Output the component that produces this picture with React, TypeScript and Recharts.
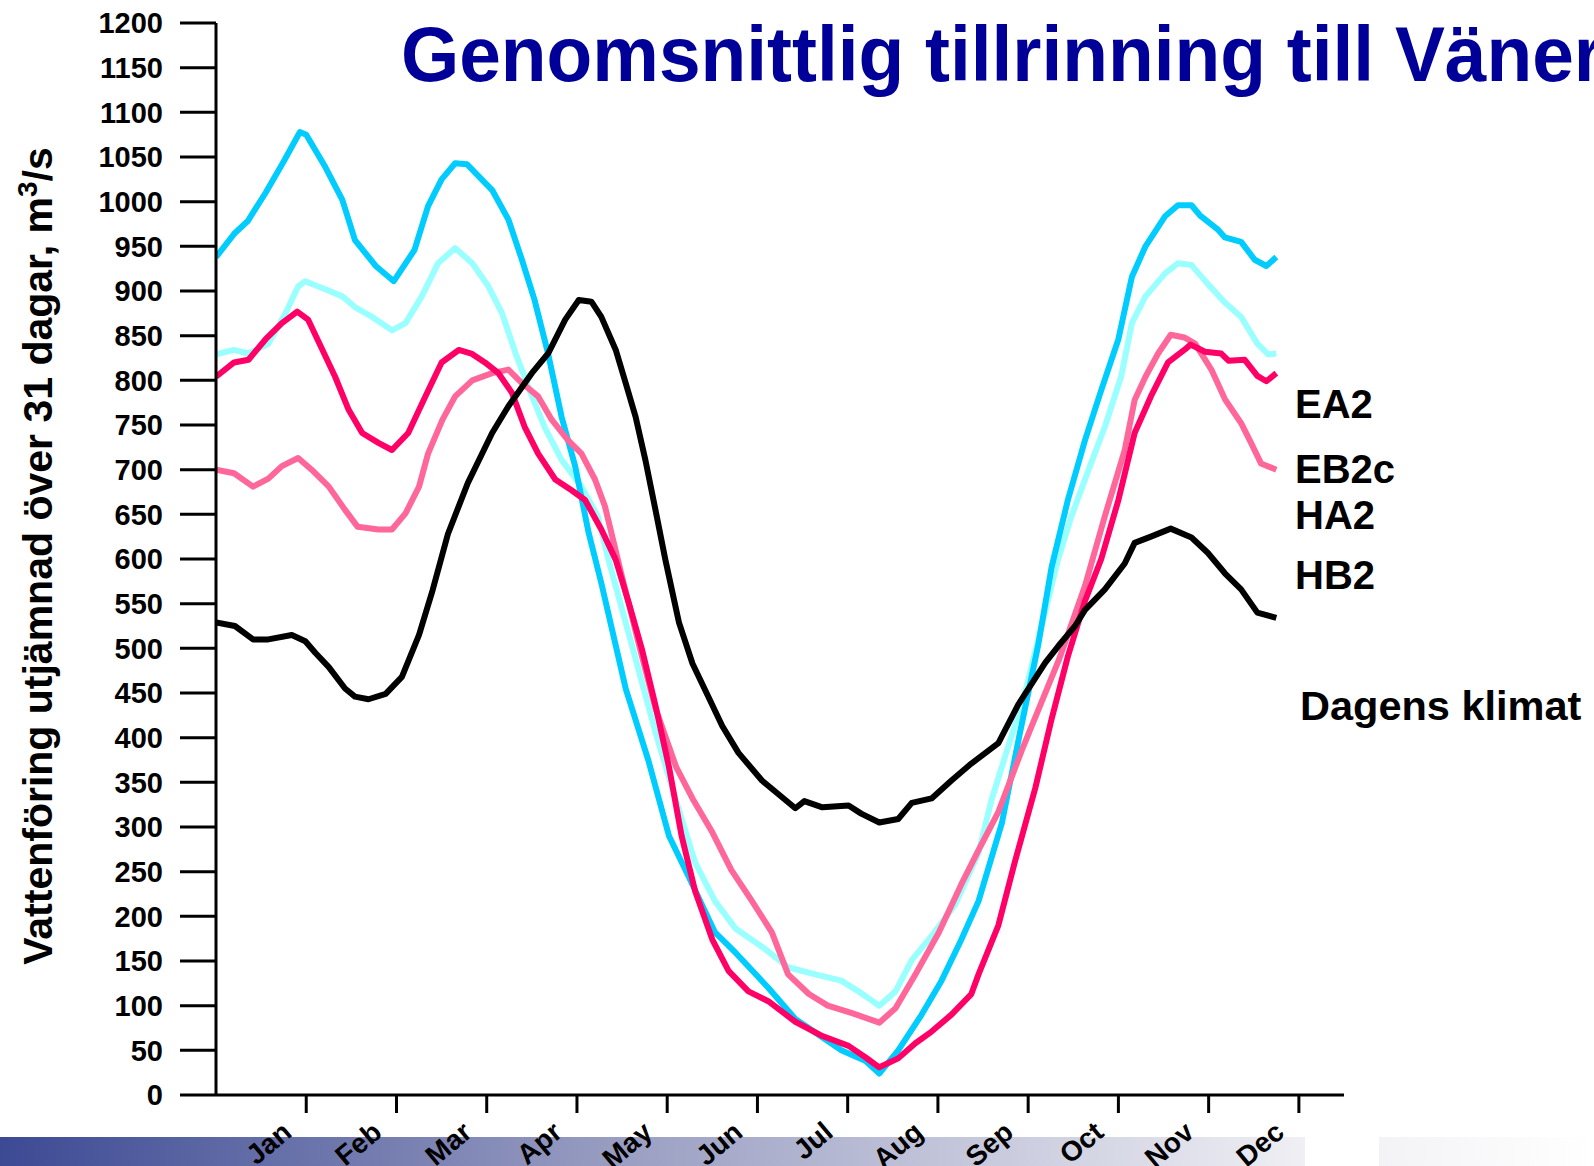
import React from 'react';
import { LineChart, Line, XAxis, YAxis } from 'recharts';

const FONT = '"Liberation Sans", Arial, Helvetica, sans-serif';

const MONTHS = ['Jan', 'Feb', 'Mar', 'Apr', 'May', 'Jun', 'Jul', 'Aug', 'Sep', 'Oct', 'Nov', 'Dec'];
const MONTH_TICKS = [1, 2, 3, 4, 5, 6, 7, 8, 9, 10, 11, 12];
const Y_TICKS = [0, 50, 100, 150, 200, 250, 300, 350, 400, 450, 500, 550, 600, 650, 700, 750, 800, 850, 900, 950, 1000, 1050, 1100, 1150, 1200];

// [month (0 = 1 jan), m3/s]
const EA2: [number, number][] = [
  [0, 938], [0.21, 965], [0.35, 978], [0.55, 1010], [0.75, 1045], [0.93, 1078], [1.0, 1075], [1.21, 1039],
  [1.4, 1002], [1.54, 957], [1.77, 928], [1.97, 911], [2.2, 946], [2.35, 995], [2.5, 1025], [2.65, 1043],
  [2.78, 1042], [3.06, 1013], [3.24, 980], [3.39, 935], [3.53, 890], [3.68, 830], [3.83, 759], [3.98, 704],
  [4.13, 629], [4.27, 573], [4.54, 455], [4.79, 375], [5.02, 290], [5.24, 244], [5.53, 182], [5.76, 159],
  [6.12, 120], [6.42, 85], [6.93, 50], [7.2, 38], [7.35, 24], [7.56, 50], [7.82, 90], [8.04, 128],
  [8.26, 174], [8.45, 217], [8.71, 305], [8.91, 406], [9.11, 503], [9.26, 591], [9.44, 666], [9.63, 733],
  [9.81, 789], [10.0, 846], [10.15, 916], [10.3, 950], [10.52, 984], [10.66, 996], [10.81, 996], [10.91, 984],
  [11.1, 969], [11.18, 960], [11.36, 955], [11.51, 935], [11.64, 928], [11.75, 938],
];

const EB2C: [number, number][] = [
  [0, 829], [0.2, 834], [0.36, 830], [0.58, 841], [0.77, 875], [0.91, 905], [0.99, 911], [1.21, 902],
  [1.4, 894], [1.54, 882], [1.73, 871], [1.95, 856], [2.1, 864], [2.28, 894], [2.46, 931], [2.65, 948],
  [2.84, 931], [3.02, 905], [3.17, 875], [3.32, 830], [3.46, 793], [3.64, 748], [3.83, 711], [4.05, 681],
  [4.23, 648], [4.35, 599], [4.61, 503], [4.87, 406], [5.1, 329], [5.31, 260], [5.53, 217], [5.76, 186],
  [6.05, 166], [6.34, 143], [6.64, 135], [6.93, 128], [7.15, 114], [7.35, 100], [7.53, 116], [7.71, 151],
  [7.93, 178], [8.19, 213], [8.45, 271], [8.59, 329], [8.97, 452], [9.33, 599], [9.48, 648], [9.67, 700],
  [9.85, 748], [10.03, 804], [10.15, 864], [10.3, 894], [10.52, 920], [10.66, 931], [10.81, 929], [10.99, 908],
  [11.18, 887], [11.36, 871], [11.54, 841], [11.66, 829], [11.75, 830],
];

const HA2: [number, number][] = [
  [0, 804], [0.2, 820], [0.36, 823], [0.55, 846], [0.73, 864], [0.9, 877], [1.02, 868], [1.18, 834],
  [1.32, 804], [1.47, 767], [1.62, 741], [1.8, 730], [1.95, 722], [2.13, 741], [2.32, 782], [2.5, 820],
  [2.69, 834], [2.83, 830], [2.98, 820], [3.13, 808], [3.28, 786], [3.42, 748], [3.57, 718], [3.76, 689],
  [3.94, 677], [4.09, 666], [4.27, 633], [4.43, 599], [4.58, 549], [4.72, 499], [4.87, 436], [5.02, 367],
  [5.16, 290], [5.31, 228], [5.5, 174], [5.68, 139], [5.9, 116], [6.12, 105], [6.42, 82], [6.72, 66],
  [7.01, 55], [7.2, 42], [7.35, 31], [7.56, 41], [7.75, 58], [7.93, 71], [8.15, 90], [8.37, 113],
  [8.45, 135], [8.67, 190], [8.85, 260], [9.08, 344], [9.26, 421], [9.44, 491], [9.63, 553], [9.81, 600],
  [10.0, 666], [10.18, 741], [10.36, 782], [10.55, 820], [10.73, 834], [10.8, 840], [10.96, 832], [11.14, 830],
  [11.22, 822], [11.4, 823], [11.54, 805], [11.64, 799], [11.75, 808],
];

const HB2: [number, number][] = [
  [0, 700], [0.2, 696], [0.41, 681], [0.58, 690], [0.73, 704], [0.91, 713], [1.06, 700], [1.25, 681],
  [1.43, 655], [1.57, 636], [1.8, 633], [1.95, 633], [2.1, 651], [2.25, 681], [2.35, 718], [2.51, 756],
  [2.65, 782], [2.84, 800], [3.06, 808], [3.24, 812], [3.39, 797], [3.57, 782], [3.72, 756], [3.9, 733],
  [4.05, 718], [4.2, 689], [4.31, 659], [4.5, 580], [4.69, 503], [4.87, 433], [5.1, 367], [5.28, 332],
  [5.5, 294], [5.71, 252], [5.94, 217], [6.16, 182], [6.34, 135], [6.57, 113], [6.78, 100], [7.04, 92],
  [7.35, 81], [7.53, 97], [7.75, 135], [8.01, 182], [8.26, 236], [8.45, 274], [8.67, 317], [8.93, 386],
  [9.34, 487], [9.63, 570], [9.85, 648], [10.07, 722], [10.18, 778], [10.3, 804], [10.44, 830], [10.58, 851],
  [10.73, 848], [10.85, 841], [11.03, 812], [11.18, 779], [11.36, 752], [11.47, 730], [11.58, 707], [11.75, 700],
];

const DAGENS: [number, number][] = [
  [0, 529], [0.21, 525], [0.41, 510], [0.58, 510], [0.84, 515], [0.99, 508], [1.1, 495], [1.25, 479],
  [1.43, 455], [1.54, 446], [1.69, 443], [1.88, 449], [2.06, 468], [2.25, 515], [2.4, 565], [2.57, 628],
  [2.79, 685], [3.06, 741], [3.24, 771], [3.5, 808], [3.68, 830], [3.87, 868], [4.02, 890], [4.16, 888],
  [4.27, 871], [4.43, 834], [4.54, 797], [4.65, 759], [4.76, 710], [4.87, 655], [4.98, 599], [5.13, 529],
  [5.28, 483], [5.46, 445], [5.61, 413], [5.79, 383], [6.05, 352], [6.23, 337], [6.42, 321], [6.52, 329],
  [6.72, 322], [7.01, 324], [7.15, 315], [7.35, 305], [7.56, 309], [7.71, 327], [7.93, 332], [8.15, 352],
  [8.37, 371], [8.67, 394], [8.89, 437], [9.19, 484], [9.33, 502], [9.52, 525], [9.63, 543], [9.85, 566],
  [10.07, 595], [10.18, 618], [10.36, 625], [10.58, 634], [10.81, 624], [10.99, 607], [11.18, 584], [11.36, 566],
  [11.54, 540], [11.75, 534],
];

const LEGEND = ['EA2', 'EB2c', 'HA2', 'HB2', 'Dagens klimat'];

// drawing order: back to front
const SERIES = [
  { name: 'EB2c', color: '#99FFFF', points: EB2C },
  { name: 'EA2', color: '#00CCFF', points: EA2 },
  { name: 'HB2', color: '#FF6699', points: HB2 },
  { name: 'HA2', color: '#FF0066', points: HA2 },
  { name: 'Dagens klimat', color: '#000000', points: DAGENS },
];

const toRows = (pts: [number, number][]) => pts.map(([m, v]) => ({ m, v }));

function MonthTick(props: any) {
  const { x, y, payload } = props;
  return (
    <text
      transform={`translate(${x - 13},${y + 20}) rotate(-40)`}
      textAnchor="end"
      fontSize={28}
      fontWeight="bold"
      fontFamily={FONT}
      fill="#000"
    >
      {MONTHS[payload.value - 1]}
    </text>
  );
}

function Backdrop() {
  const legendY = [418, 483, 529, 589, 720];
  return (
    <svg width={1594} height={1166} style={{ position: 'absolute', left: 0, top: 0 }}>
      <defs>
        <linearGradient id="band" x1="0" x2="1" y1="0" y2="0">
          <stop offset="0%" stopColor="#3c4a94" />
          <stop offset="50%" stopColor="#9ea2c4" />
          <stop offset="100%" stopColor="#efeff4" />
        </linearGradient>
        <linearGradient id="band2" x1="0" x2="1" y1="0" y2="0">
          <stop offset="0%" stopColor="#f3f3f6" />
          <stop offset="100%" stopColor="#ffffff" />
        </linearGradient>
      </defs>
      <rect x={0} y={1137} width={1305} height={29} fill="url(#band)" />
      <rect x={1379} y={1137} width={215} height={29} fill="url(#band2)" />
      <text
        transform="translate(401,81) scale(0.96,1)"
        fontSize={78}
        fontWeight="bold"
        fontFamily={FONT}
        fill="#000099"
      >
        Genomsnittlig tillrinning till Vänern
      </text>
      <text
        transform="translate(52,556) rotate(-90)"
        textAnchor="middle"
        fontSize={41}
        fontWeight="bold"
        fontFamily={FONT}
        fill="#000"
      >
        Vattenföring utjämnad över 31 dagar, m
        <tspan fontSize={28} dy={-15}>3</tspan>
        <tspan dy={15}>/s</tspan>
      </text>
      {LEGEND.map((name, i) => (
        <text
          key={name}
          x={i === 4 ? 1300 : 1295}
          y={legendY[i]}
          fontSize={i === 4 ? 41.5 : 40}
          fontWeight="bold"
          fontFamily={FONT}
          fill="#000"
        >
          {name}
        </text>
      ))}
    </svg>
  );
}

export default function App() {
  return (
    <div style={{ position: 'absolute', left: 0, top: 0, width: 1594, height: 1166, overflow: 'hidden', background: '#fff' }}>
      <Backdrop />
      <div style={{ position: 'absolute', left: 0, top: 0 }}>
        <LineChart width={1594} height={1166} margin={{ top: 23, right: 250, bottom: 0, left: 0 }}>
          <XAxis
            type="number"
            dataKey="m"
            domain={[0, 12.5]}
            ticks={MONTH_TICKS}
            interval={0}
            height={71}
            tickSize={18}
            axisLine={{ stroke: '#000', strokeWidth: 3 }}
            tickLine={{ stroke: '#000', strokeWidth: 3 }}
            tick={<MonthTick />}
            allowDataOverflow
          />
          <YAxis
            type="number"
            domain={[0, 1200]}
            ticks={Y_TICKS}
            interval={0}
            width={216}
            tickSize={36}
            tickMargin={17}
            axisLine={{ stroke: '#000', strokeWidth: 3 }}
            tickLine={{ stroke: '#000', strokeWidth: 3 }}
            tick={{ fontSize: 29, fontWeight: 'bold', fill: '#000', fontFamily: FONT }}
          />
          {SERIES.map((s) => (
            <Line
              key={s.name}
              name={s.name}
              data={toRows(s.points)}
              dataKey="v"
              type="linear"
              stroke={s.color}
              strokeWidth={6}
              strokeLinejoin="round"
              dot={false}
              activeDot={false}
              isAnimationActive={false}
            />
          ))}
        </LineChart>
      </div>
    </div>
  );
}
